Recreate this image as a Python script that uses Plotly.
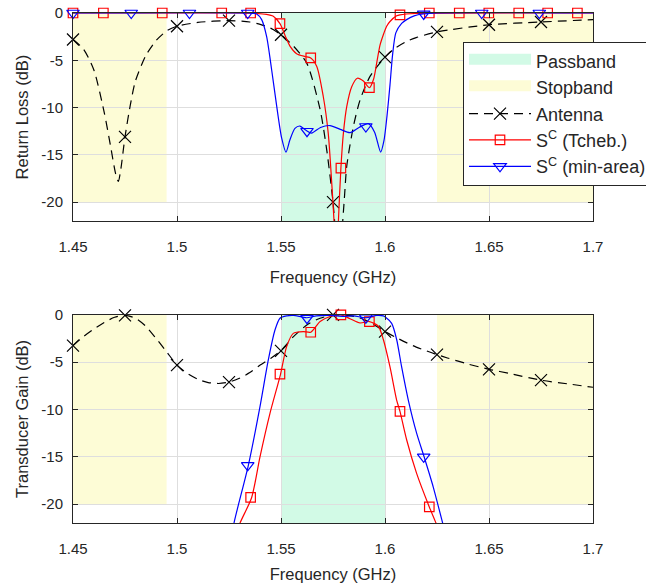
import plotly.graph_objects as go

# ---------------- data ----------------
passband = [1.55, 1.60]
stopbands = [[1.45, 1.495], [1.625, 1.70]]
stopband_level = -20
y_floor = -22

x_ticks = [1.45, 1.5, 1.55, 1.6, 1.65, 1.7]
x_tick_labels = ["1.45", "1.5", "1.55", "1.6", "1.65", "1.7"]
y_ticks = [0, -5, -10, -15, -20]
y_tick_labels = ["0", "-5", "-10", "-15", "-20"]

# Return loss, antenna
ant_rl_f = [1.45, 1.455, 1.46, 1.465, 1.468, 1.4705, 1.4718, 1.473, 1.475, 1.4775, 1.48, 1.485,
            1.49, 1.495, 1.5, 1.51, 1.525, 1.535, 1.54, 1.545, 1.55, 1.556, 1.5624, 1.5688,
            1.572, 1.575, 1.5765, 1.5778, 1.579, 1.5805, 1.5816, 1.5848, 1.588, 1.5928, 1.6,
            1.605, 1.61, 1.615, 1.625, 1.65, 1.675, 1.7]
ant_rl = [-2.8, -3.8, -6.0, -10.5, -14.0, -17.0, -17.8, -16.5, -13.1, -9.8, -7.2, -4.5,
          -2.9, -1.9, -1.4, -1.0, -0.8, -0.95, -1.2, -1.6, -2.3, -3.5, -5.3, -10.2,
          -14.5, -20.0, -24.0, -27.0, -24.0, -19.5, -16.2, -12.0, -9.2, -6.7, -4.66,
          -3.7, -3.05, -2.6, -2.0, -1.24, -0.95, -0.7]

# Return loss, S^C (Tcheb.)
tch_rl_f = [1.45, 1.53, 1.538, 1.543, 1.5463, 1.5495, 1.552, 1.5543, 1.5575, 1.5615, 1.5643,
            1.5672, 1.5703, 1.5727, 1.5744, 1.5755, 1.5766, 1.5776, 1.5788, 1.58, 1.5816,
            1.584, 1.5867, 1.5896, 1.5925, 1.5945, 1.596, 1.5976, 1.5992, 1.6008, 1.6024,
            1.6056, 1.6072, 1.615, 1.7]
tch_rl = [0, 0, -0.05, -0.15, -0.35, -1.13, -2.4, -3.5, -4.3, -4.6, -4.75,
          -5.65, -8.8, -12.7, -18.0, -22.0, -28.0, -22.0, -16.4, -12.7, -9.9,
          -7.8, -6.9, -7.2, -7.9, -7.0, -5.3, -3.4, -2.3, -1.4, -0.9,
          -0.3, -0.2, -0.05, 0]

# Return loss, S^C (min-area)
min_rl_f = [1.45, 1.535, 1.5383, 1.5407, 1.5431, 1.5455, 1.5479, 1.5503, 1.5524, 1.5543, 1.5567,
            1.5591, 1.562, 1.5647, 1.569, 1.5736, 1.5785, 1.5832, 1.5875, 1.592, 1.595, 1.5979,
            1.5995, 1.601, 1.6024, 1.6036, 1.6052, 1.608, 1.6104, 1.614, 1.6184, 1.625, 1.7]
min_rl = [0, 0, -0.1, -0.7, -2.5, -6.0, -9.8, -13.2, -14.7, -13.4, -12.2,
          -11.95, -12.4, -12.7, -12.1, -11.9, -12.3, -12.65, -12.1, -11.7, -12.6, -14.7,
          -13.5, -10.8, -7.6, -4.5, -2.1, -1.1, -0.7, -0.3, -0.1, 0, 0]

# Transducer gain, antenna
ant_tg_f = [1.45, 1.455, 1.46, 1.465, 1.47, 1.475, 1.48, 1.485, 1.49, 1.495, 1.5, 1.505, 1.51,
            1.515, 1.52, 1.525, 1.53, 1.535, 1.54, 1.545, 1.55, 1.556, 1.5631, 1.5688, 1.575,
            1.58, 1.585, 1.59, 1.595, 1.6, 1.605, 1.61, 1.615, 1.62, 1.625, 1.63, 1.64, 1.65,
            1.66, 1.675, 1.69, 1.7]
ant_tg = [-3.25, -2.3, -1.5, -0.8, -0.25, -0.05, -0.35, -1.2, -2.5, -3.9, -5.3, -6.2, -6.8,
          -7.15, -7.25, -7.1, -6.7, -6.1, -5.3, -4.6, -3.75, -2.3, -0.95, -0.35, -0.02,
          0, -0.15, -0.5, -1.1, -1.76, -2.35, -2.9, -3.4, -3.8, -4.2, -4.55, -5.2, -5.75,
          -6.2, -6.9, -7.35, -7.65]

# Transducer gain, S^C (Tcheb.)
tch_tg_f = [1.527, 1.5303, 1.5359, 1.5399, 1.5447, 1.5498, 1.5527, 1.5559, 1.5607, 1.5643,
            1.5688, 1.5736, 1.5788, 1.5832, 1.588, 1.5925, 1.5968, 1.5992, 1.6024, 1.6056,
            1.6072, 1.6104, 1.6152, 1.6213, 1.6245, 1.627]
tch_tg = [-24.0, -22.0, -19.3, -15.0, -10.4, -6.25, -3.35, -1.95, -1.76, -1.83,
          -0.7, -0.17, 0, -0.4, -0.85, -0.7, -1.2, -2.6, -5.5, -9.0,
          -10.2, -13.2, -16.75, -20.3, -22.0, -23.5]

# Transducer gain, S^C (min-area)
min_tg_f = [1.525, 1.5274, 1.5343, 1.5399, 1.5439, 1.5471, 1.5495, 1.5527, 1.556, 1.5623,
            1.567, 1.5736, 1.58, 1.585, 1.5907, 1.596, 1.5992, 1.6, 1.6032, 1.6056, 1.608,
            1.6112, 1.6152, 1.6188, 1.6232, 1.6277, 1.63]
min_tg = [-25.0, -22.0, -15.9, -9.7, -4.76, -1.6, -0.35, -0.1, -0.05, -0.3,
          -0.1, -0.05, -0.15, -0.1, -0.3, -0.05, -0.1, -0.2, -0.9, -2.6, -5.5,
          -9.0, -12.5, -15.0, -18.2, -22.0, -24.0]

# Marker positions
ant_mk_f = [1.45, 1.475, 1.5, 1.525, 1.55, 1.575, 1.6, 1.625, 1.65, 1.675]
ant_mk_rl = [-2.8, -13.1, -1.4, -0.8, -2.3, -20.0, -4.66, -2.0, -1.24, -0.95]
ant_mk_tg = [-3.25, -0.05, -5.3, -7.1, -3.8, 0, -1.76, -4.2, -5.75, -6.9]

tch_mk_f = [1.45, 1.4646, 1.4929, 1.5215, 1.5354, 1.5495, 1.5643, 1.5788, 1.5925, 1.6072,
            1.6213, 1.6357, 1.6499, 1.6643, 1.6782, 1.6925]
tch_mk_rl = [0, 0, 0, 0, 0, -1.13, -4.75, -16.4, -7.9, -0.2, 0, 0, 0, 0, 0, 0]
tch_mk_tg = [None, None, None, None, -19.3, -6.25, -1.83, 0, -0.7, -10.2, -20.3,
             None, None, None, None, None]

min_mk_f = [1.45, 1.478, 1.506, 1.534, 1.5625, 1.5908, 1.6186, 1.6465, 1.6742]
min_mk_rl = [0, 0, 0, 0, -12.5, -12.0, -0.1, 0, 0]
min_mk_tg = [None, None, None, -15.9, -0.35, -0.3, -15.0, None, None]

# ---------------- styles ----------------
FONT = "Liberation Sans, Arial, sans-serif"
AX = "#262626"
GRID = "#dedede"
PASS_C = "rgb(210,250,230)"
STOP_C = "rgb(253,252,214)"
DASH = "9px,6px"

fig = go.Figure()

series = [
    ("Antenna", "black", DASH, "x-thin", 12, ant_rl_f, ant_rl, ant_tg_f, ant_tg,
     ant_mk_f, ant_mk_rl, ant_mk_tg),
    ("S<sup>C</sup> (Tcheb.)", "red", "solid", "square-open", 9.5, tch_rl_f, tch_rl, tch_tg_f, tch_tg,
     tch_mk_f, tch_mk_rl, tch_mk_tg),
    ("S<sup>C</sup> (min-area)", "blue", "solid", "triangle-down-open", 11, min_rl_f, min_rl,
     min_tg_f, min_tg, min_mk_f, min_mk_rl, min_mk_tg),
]

# legend entries for bands
fig.add_trace(go.Scatter(x=[None], y=[None], mode="lines", fill="toself", fillcolor=PASS_C,
                         line=dict(color=PASS_C, width=10),
                         name="Passband", legendgroup="a"))
fig.add_trace(go.Scatter(x=[None], y=[None], mode="lines", fill="toself", fillcolor=STOP_C,
                         line=dict(color=STOP_C, width=10),
                         name="Stopband", legendgroup="b"))

for i, (name, col, dash, sym, msz, f1, v1, f2, v2, mf, m1, m2) in enumerate(series):
    for (xa, ya, f, v, mv) in (("x", "y", f1, v1, m1), ("x2", "y2", f2, v2, m2)):
        fig.add_trace(go.Scatter(x=f, y=v, mode="lines", xaxis=xa, yaxis=ya,
                                 line=dict(color=col, width=1.2, dash=dash, shape="spline",
                                           smoothing=0.7),
                                 showlegend=False, hoverinfo="skip"))
        fig.add_trace(go.Scatter(x=mf, y=mv, mode="markers", xaxis=xa, yaxis=ya,
                                 marker=dict(symbol=sym, size=msz, color=col,
                                             line=dict(color=col, width=1.2)),
                                 cliponaxis=False, showlegend=False, hoverinfo="skip"))
    fig.add_trace(go.Scatter(x=[None], y=[None], mode="lines+markers", name=name,
                             legendgroup="g%d" % i,
                             line=dict(color=col, width=1.2, dash=dash),
                             marker=dict(symbol=sym, size=msz, color=col,
                                         line=dict(color=col, width=1.2))))

shapes = []
for xr, yr in (("x", "y"), ("x2", "y2")):
    shapes.append(dict(type="rect", xref=xr, yref=yr, x0=passband[0], x1=passband[1],
                       y0=y_floor, y1=0, fillcolor=PASS_C, line=dict(width=0), layer="below"))
    for sb in stopbands:
        shapes.append(dict(type="rect", xref=xr, yref=yr, x0=sb[0], x1=sb[1],
                           y0=stopband_level, y1=0, fillcolor=STOP_C, line=dict(width=0),
                           layer="below"))

xcommon = dict(range=[1.45, 1.7], tickvals=x_ticks, ticktext=x_tick_labels, showgrid=True,
               gridcolor=GRID, gridwidth=1, zeroline=False, showline=True, linecolor=AX,
               linewidth=1, mirror="ticks", ticks="inside", ticklen=5, tickcolor=AX,
               tickfont=dict(family=FONT, size=15, color=AX), ticklabelstandoff=12)
ycommon = dict(range=[y_floor, 0], tickvals=y_ticks, ticktext=y_tick_labels, showgrid=True,
               gridcolor=GRID, gridwidth=1, zeroline=False, showline=True, linecolor=AX,
               linewidth=1, mirror="ticks", ticks="inside", ticklen=5, tickcolor=AX,
               tickfont=dict(family=FONT, size=15, color=AX), ticklabelstandoff=6)

TFONT = dict(family=FONT, size=16.5, color=AX)
fig.update_layout(
    width=646, height=586,
    margin=dict(l=73, r=53, t=13, b=63, autoexpand=False),
    paper_bgcolor="white", plot_bgcolor="white",
    shapes=shapes,
    xaxis=dict(**xcommon, domain=[0, 1], anchor="y",
               title=dict(text="Frequency (GHz)", font=TFONT, standoff=17)),
    yaxis=dict(**ycommon, domain=[0.592, 1.0], anchor="x",
               title=dict(text="Return Loss (dB)", font=TFONT, standoff=8)),
    xaxis2=dict(**xcommon, domain=[0, 1], anchor="y2",
                title=dict(text="Frequency (GHz)", font=TFONT, standoff=12)),
    yaxis2=dict(**ycommon, domain=[0, 0.408], anchor="x2",
                title=dict(text="Transducer Gain (dB)", font=TFONT, standoff=8)),
    legend=dict(x=0.75, y=0.944, xanchor="left", yanchor="top", bgcolor="white",
                bordercolor=AX, borderwidth=1, font=dict(family=FONT, size=18, color=AX),
                itemwidth=62, tracegroupgap=0, traceorder="grouped"),
    showlegend=True,
)

fig.write_html("out.html", config={"displayModeBar": False},
               post_script="document.body.style.margin='0';")
